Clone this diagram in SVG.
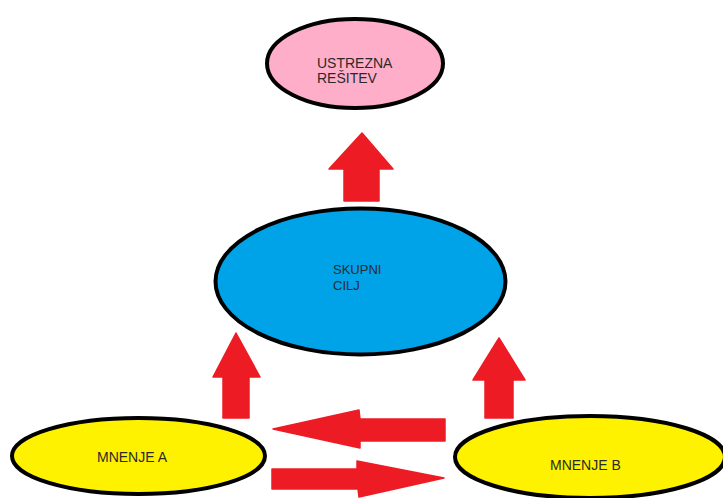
<svg xmlns="http://www.w3.org/2000/svg" width="723" height="498" viewBox="0 0 723 498">
  <style>
    .node { stroke: #000; stroke-width: 4; }
    .label { font-family: "Liberation Sans", Arial, sans-serif; font-size: 14px; fill: #2a2a2a; }
    .arrow { fill: #ed1c24; stroke: #ed1c24; stroke-width: 1.5; stroke-linejoin: round; }
  </style>
  <rect width="723" height="498" fill="#fff"/>

  <g id="connectors">
    <!-- SKUPNI CILJ -> USTREZNA RESITEV -->
    <path class="arrow" d="M362,133 L393,169 L379,169 L379,201 L344,201 L344,169 L329,169 Z"/>
    <!-- MNENJE A -> SKUPNI CILJ -->
    <path class="arrow" d="M236,333 L260,377 L249,377 L249,418 L223,418 L223,377 L213,377 Z"/>
    <!-- MNENJE B -> SKUPNI CILJ -->
    <path class="arrow" d="M499,338 L525,380 L513,380 L513,418 L485,418 L485,380 L473,380 Z"/>
    <!-- MNENJE B -> MNENJE A -->
    <path class="arrow" d="M273,429 L359,410 L360,419 L445,419 L445,441 L360,441 L360,448 Z"/>
    <!-- MNENJE A -> MNENJE B -->
    <path class="arrow" d="M444,478 L359,497 L358,489 L272,489 L272,469 L357,469 L357,461 Z"/>
  </g>

  <g id="ustrezna-resitev">
    <ellipse class="node" cx="355" cy="63.5" rx="88" ry="44.5" fill="#ffaec9"/>
    <text class="label" x="317" y="68">USTREZNA</text>
    <text class="label" x="317" y="83">REŠITEV</text>
  </g>

  <g id="skupni-cilj">
    <ellipse class="node" cx="360.5" cy="281.5" rx="145" ry="73" fill="#00a2e8"/>
    <text class="label" x="333" y="274" style="font-size:13px">SKUPNI</text>
    <text class="label" x="333" y="290" style="font-size:13px">CILJ</text>
  </g>

  <g id="mnenje-a">
    <ellipse class="node" cx="138.5" cy="456" rx="126.5" ry="38" fill="#fff200"/>
    <text class="label" x="97" y="462">MNENJE A</text>
  </g>

  <g id="mnenje-b">
    <ellipse class="node" cx="590" cy="457" rx="135" ry="41" fill="#fff200"/>
    <text class="label" x="550" y="470">MNENJE B</text>
  </g>
</svg>
